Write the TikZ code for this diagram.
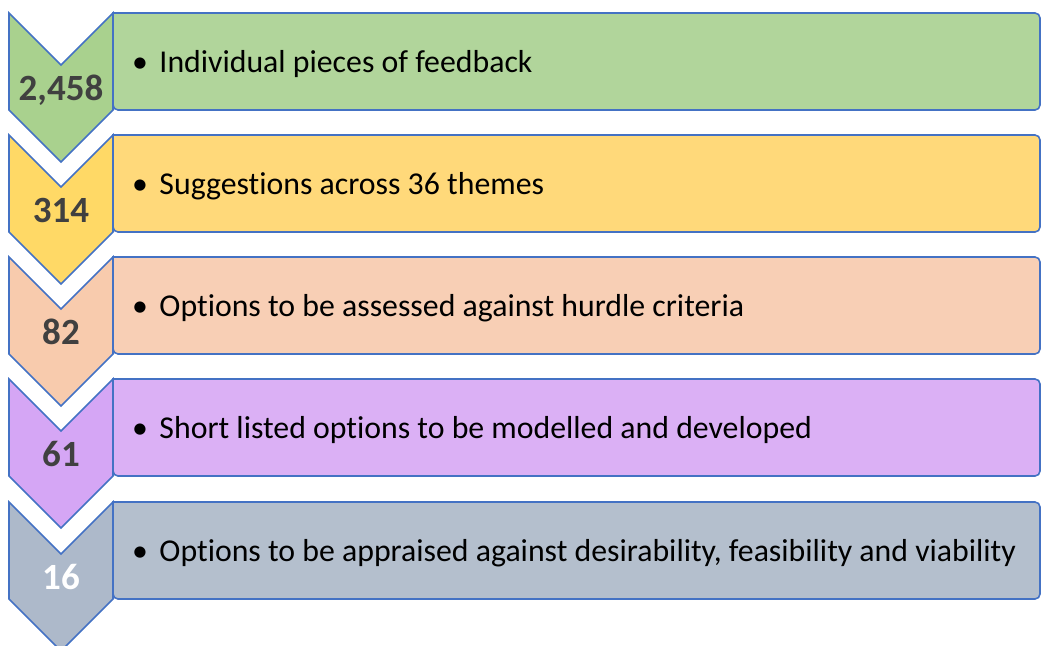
\documentclass[tikz,border=0pt]{standalone}
\usepackage{fontspec}
\setmainfont[Ligatures=NoCommon]{Carlito}
\begin{document}
\begin{tikzpicture}[x=1pt,y=-1pt,
  numtxt/.style={font=\fontsize{37}{37}\selectfont\bfseries, anchor=base, inner sep=0pt},
  bodytxt/.style={font=\fontsize{31.8}{31.8}\selectfont, text=black, anchor=base west, inner sep=0pt}]
\definecolor{bord}{HTML}{4472C4}
\definecolor{numgray}{HTML}{404040}
\definecolor{gA}{HTML}{A9D18E}\definecolor{gB}{HTML}{B1D59B}
\definecolor{yA}{HTML}{FFD966}\definecolor{yB}{HTML}{FFD97A}
\definecolor{pA}{HTML}{F8CBAD}\definecolor{pB}{HTML}{F8CFB5}
\definecolor{vA}{HTML}{D5A6F5}\definecolor{vB}{HTML}{DBB0F5}
\definecolor{sA}{HTML}{ADB9CA}\definecolor{sB}{HTML}{B4BFCD}
\tikzset{edge/.style={draw=bord, line width=1.6pt, line join=miter}}
\useasboundingbox (0,0) rectangle (1041,645);
\foreach \t/\ca/\cb/\num/\txt/\nc/\nm in {
  13/gA/gB/{2,458}/{Individual pieces of feedback}/numgray/a,
  135/yA/yB/{314}/{Suggestions across 36 themes}/numgray/b,
  257/pA/pB/{82}/{Options to be assessed against hurdle criteria}/numgray/c,
  379/vA/vB/{61}/{Short listed options to be modelled and developed}/numgray/d,
  502/sA/sB/{16}/{Options to be appraised against desirability, feasibility and viability}/white/e}{
  \draw[edge, fill=\cb, rounded corners=5pt] (113,\t) -- (1040,\t) -- (1040,\t+97) -- (113,\t+97) [sharp corners] -- cycle;
  \draw[edge, fill=\ca] (9,\t) -- (61,\t+52) -- (113,\t) -- (113,\t+97) -- (61,\t+149) -- (9,\t+97) -- cycle;
  \node[numtxt, text=\nc] (num\nm) at (61,\t+87) {\num};
  \node[bodytxt] (txt\nm) at (132,\t+59) {\textbullet\hspace{0.36em}\txt};
}
\end{tikzpicture}
\end{document}
